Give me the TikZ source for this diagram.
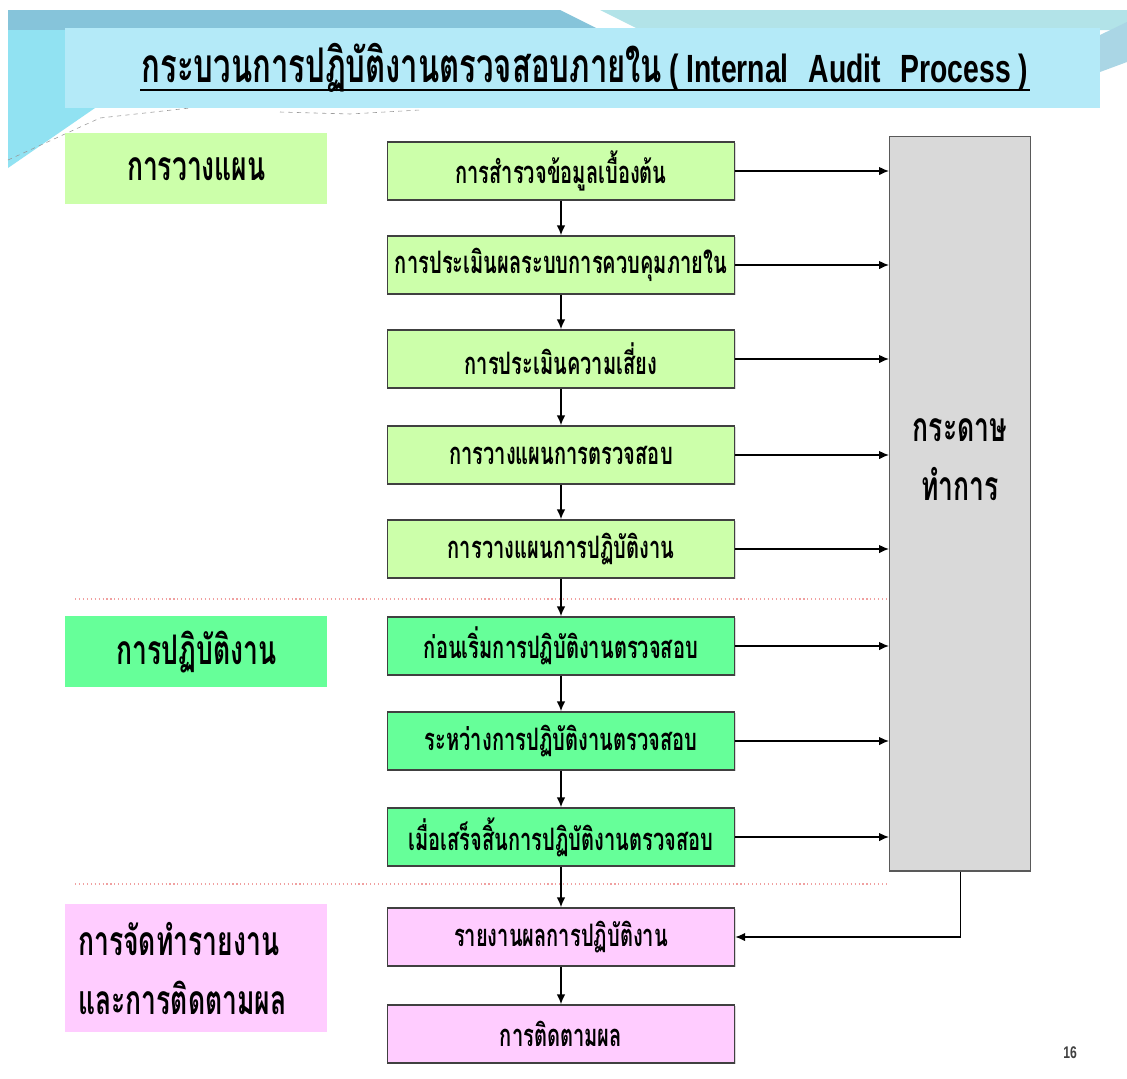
\documentclass[tikz,border=0pt]{standalone}
\usepackage{fontspec}
\setmainfont{Liberation Sans}
\newfontfamily\thaifont[Script=Thai,FakeStretch=0.65]{Loma}
\newfontfamily\latinfont[FakeStretch=0.72]{Liberation Sans}
\usetikzlibrary{arrows.meta}
\usetikzlibrary{shadows}

\definecolor{bandblue}{HTML}{B4EAF8}
\definecolor{topblue}{HTML}{86C4DA}
\definecolor{toplight}{HTML}{B2E3E8}
\definecolor{sidecyan}{HTML}{62D6EC}
\definecolor{plangreen}{HTML}{CCFFAA}
\definecolor{workgreen}{HTML}{66FF99}
\definecolor{reportpink}{HTML}{FFCCFF}
\definecolor{papergray}{HTML}{D9D9D9}
\definecolor{sepred}{HTML}{F0A0A0}

\tikzset{flow/.style={-{Latex[length=7pt,width=6pt]},line width={1pt}}}

\begin{document}
\begin{tikzpicture}[x=0.025cm,y=-0.025cm]

\tikzstyle{stage}=[rectangle,anchor={north west},minimum width={6.55cm},inner sep={0pt},font={\thaifont\bfseries\fontsize{29}{38}\selectfont}]
\tikzstyle{stepbox}=[draw={black!75},line width={1pt},rectangle,minimum width={8.675cm},minimum height={1.45cm},inner sep={0pt},drop shadow={shadow xshift=1pt,shadow yshift=-1pt,opacity=0.3},font={\thaifont\bfseries\fontsize{22}{26}\selectfont}]

\useasboundingbox (0,0) rectangle (1127,1079);
\fill [white] (0,0) rectangle (1127,1079);

% background: top band and side swoosh

\fill [topblue] (8,10) -- (560,10) -- (600,30) -- (8,30) -- cycle;
\fill [toplight] (600,10) -- (1127,10) -- (1127,30) -- (640,30) -- cycle;
\fill [sidecyan!70] (8,30) -- (65,30) -- (65,108) -- (95,108) -- (8,168) -- cycle;
\fill [topblue!70] (1100,35) -- (1127,22) -- (1127,62) -- (1100,72) -- cycle;
\draw [black!40,dashed] (8,160) -- (100,118) -- (190,108);
\draw [black!40,dashed] (280,112) -- (350,114) -- (420,110);

% title

\fill [bandblue] (65,28) rectangle (1100,108);
\node at (585,68) (T) {{\thaifont\bfseries\fontsize{34}{40}\selectfont กระบวนการปฏิบัติงานตรวจสอบภายใน}\hspace{0.5em}{\latinfont\bfseries\fontsize{28}{32}\selectfont ( Internal\hspace{0.3em} Audit\hspace{0.3em} Process )}} ;
\draw [line width={2pt}] (140,90) -- (1030,90) ;

% stages: labels

\node at (65,133) [stage,fill=plangreen,minimum height={1.775cm}] (L1) {การวางแผน} ;
\node at (65,616) [stage,fill=workgreen,minimum height={1.775cm}] (L2) {การปฏิบัติงาน} ;
\node at (65,904) [stage,fill=reportpink,minimum height={3.2cm},align={left},text width={5.9cm}] (L3) {การจัดทำรายงาน\\[4pt]และการติดตามผล} ;

% separators

\draw [sepred,dotted,line width={0.8pt}] (75,599) -- (890,599) ;
\draw [sepred,dotted,line width={0.8pt}] (75,884) -- (890,884) ;

% steps: nodes

\node at (561,171)  [stepbox,fill=plangreen] (P1) {การสำรวจข้อมูลเบื้องต้น} ;
\node at (561,265)  [stepbox,fill=plangreen] (P2) {การประเมินผลระบบการควบคุมภายใน} ;
\node at (561,359)  [stepbox,fill=plangreen] (P3) {การประเมินความเสี่ยง} ;
\node at (561,455)  [stepbox,fill=plangreen] (P4) {การวางแผนการตรวจสอบ} ;
\node at (561,549)  [stepbox,fill=plangreen] (P5) {การวางแผนการปฏิบัติงาน} ;
\node at (561,646)  [stepbox,fill=workgreen] (P6) {ก่อนเริ่มการปฏิบัติงานตรวจสอบ} ;
\node at (561,741)  [stepbox,fill=workgreen] (P7) {ระหว่างการปฏิบัติงานตรวจสอบ} ;
\node at (561,837)  [stepbox,fill=workgreen] (P8) {เมื่อเสร็จสิ้นการปฏิบัติงานตรวจสอบ} ;
\node at (561,937)  [stepbox,fill=reportpink] (P9) {รายงานผลการปฏิบัติงาน} ;
\node at (561,1034) [stepbox,fill=reportpink] (P10) {การติดตามผล} ;

% working papers

\node at (889,136) [draw={black!65},line width={1pt},fill=papergray,anchor={north west},minimum width={3.525cm},minimum height={18.35cm},inner sep={0pt}] (G) {} ;
\node at (960,460) [font={\thaifont\bfseries\fontsize{29}{38}\selectfont},align={center}] (GT) {กระดาษ\\[4pt]ทำการ} ;

% connections: steps

\draw [flow] (P1.south) -- (P2.north) ;
\draw [flow] (P2.south) -- (P3.north) ;
\draw [flow] (P3.south) -- (P4.north) ;
\draw [flow] (P4.south) -- (P5.north) ;
\draw [flow] (P5.south) -- (P6.north) ;
\draw [flow] (P6.south) -- (P7.north) ;
\draw [flow] (P7.south) -- (P8.north) ;
\draw [flow] (P8.south) -- (P9.north) ;
\draw [flow] (P9.south) -- (P10.north) ;

% connections: working papers

\draw [flow] (P1.east) -- (P1.east -| G.west) ;
\draw [flow] (P2.east) -- (P2.east -| G.west) ;
\draw [flow] (P3.east) -- (P3.east -| G.west) ;
\draw [flow] (P4.east) -- (P4.east -| G.west) ;
\draw [flow] (P5.east) -- (P5.east -| G.west) ;
\draw [flow] (P6.east) -- (P6.east -| G.west) ;
\draw [flow] (P7.east) -- (P7.east -| G.west) ;
\draw [flow] (P8.east) -- (P8.east -| G.west) ;
\draw [flow] (G.south) |- (P9.east) ;

% page number

\node at (1070,1053) [font={\latinfont\bfseries\fontsize{12}{14}\selectfont},text=black!75] (N) {16} ;

\end{tikzpicture}
\end{document}
